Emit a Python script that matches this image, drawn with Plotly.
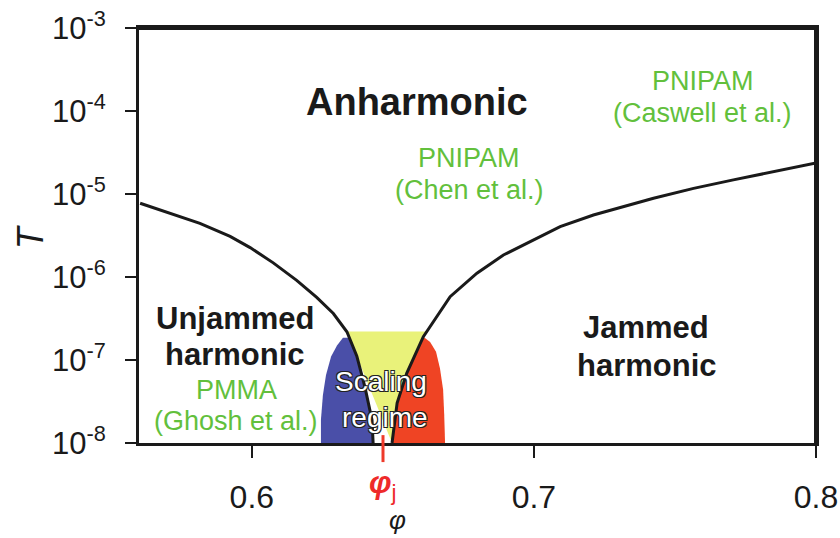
import numpy as np
import plotly.graph_objects as go

# boundary between anharmonic and harmonic regimes (phi, T)
left_phi = [0.5604, 0.5686, 0.5816, 0.5923, 0.5994, 0.6076, 0.6159, 0.6230, 0.6289, 0.6337,
            0.6372, 0.6401, 0.6426, 0.6430]
left_T = [7.73e-6, 6.24e-6, 4.42e-6, 3.09e-6, 2.26e-6, 1.48e-6, 9.1e-7, 5.69e-7, 3.63e-7, 2.19e-7,
          1.12e-7, 4.7e-8, 1.9e-8, 1.0e-8]
right_phi = [0.6497, 0.6515, 0.6549, 0.6608, 0.6703, 0.6798, 0.6892, 0.6998, 0.7093, 0.7211,
             0.7329, 0.7424, 0.7566, 0.7707, 0.8]
right_T = [1.0e-8, 3.03e-8, 6.9e-8, 1.91e-7, 5.8e-7, 1.11e-6, 1.84e-6, 2.79e-6, 4.04e-6, 5.58e-6,
           7.16e-6, 8.87e-6, 1.17e-5, 1.48e-5, 2.36e-5]

# scaling regime patches
yellow_top_T = 2.2e-7
blue_phi = [0.6245, 0.6245, 0.6252, 0.6263, 0.6281, 0.6302, 0.6323]
blue_T = [1.0e-8, 1.9e-8, 3.8e-8, 6.6e-8, 1.1e-7, 1.5e-7, 1.85e-7]
red_phi = [0.6632, 0.6653, 0.6667, 0.6678, 0.6682, 0.6685]
red_T = [1.65e-7, 1.26e-7, 7.9e-8, 4.4e-8, 2.2e-8, 1.0e-8]

phi_j = 0.6465

x_range = [0.56, 0.8]
y_range = [1e-8, 1e-3]
y_tickvals = [1e-8, 1e-7, 1e-6, 1e-5, 1e-4, 1e-3]
y_ticktext = ["10<sup>-8</sup>", "10<sup>-7</sup>", "10<sup>-6</sup>", "10<sup>-5</sup>",
              "10<sup>-4</sup>", "10<sup>-3</sup>"]
x_tickvals = [0.6, 0.7, 0.8]
x_ticktext = ["0.6", "0.7", "0.8"]

# region labels: (phi, log10 T, text, size, bold, colour)
BLACK = "#1a1a1a"
GREEN = "#62c03c"
labels = [
    (0.6586, -3.892, "Anharmonic", 38, True, BLACK),
    (0.6770, -4.566, "PNIPAM", 27, False, GREEN),
    (0.6770, -4.952, "(Chen et al.)", 27, False, GREEN),
    (0.7600, -3.639, "PNIPAM", 27, False, GREEN),
    (0.7596, -4.024, "(Caswell et al.)", 27, False, GREEN),
    (0.5940, -6.494, "Unjammed", 31, True, BLACK),
    (0.5940, -6.928, "harmonic", 31, True, BLACK),
    (0.5944, -7.361, "PMMA", 27, False, GREEN),
    (0.5944, -7.735, "(Ghosh et al.)", 27, False, GREEN),
    (0.7398, -6.614, "Jammed", 31, True, BLACK),
    (0.7401, -7.072, "harmonic", 31, True, BLACK),
]
scaling_labels = [(0.6458, -7.253, "Scaling"), (0.6472, -7.687, "regime")]

FONT = "Liberation Sans, Arial, sans-serif"


def curve_at(phis, Ts, T):
    # phi on a boundary curve where it crosses T (log interpolation)
    lt = np.log10(Ts)
    order = np.argsort(lt)
    return float(np.interp(np.log10(T), lt[order], np.array(phis)[order]))


lx_top = curve_at(left_phi, left_T, yellow_top_T)
rx_top = curve_at(right_phi, right_T, yellow_top_T)

# yellow region between the two curves under the cap
yel_x = [lx_top, rx_top] + [p for p, t in zip(right_phi, right_T) if t <= yellow_top_T][::-1] + \
        [p for p, t in zip(left_phi, left_T) if t <= yellow_top_T]
yel_y = [yellow_top_T, yellow_top_T] + [t for t in right_T if t <= yellow_top_T][::-1] + \
        [t for t in left_T if t <= yellow_top_T]

# blue: dome edge, then back down the left curve
bl_top = blue_T[-1]
bl_x = blue_phi + [curve_at(left_phi, left_T, bl_top)] + \
       [p for p, t in zip(left_phi, left_T) if t < bl_top]
bl_y = blue_T + [bl_top] + [t for t in left_T if t < bl_top]
# red: up the right curve, then dome edge down
rd_top = 1.91e-7
rd_x = [p for p, t in zip(right_phi, right_T) if t <= rd_top] + red_phi
rd_y = [t for t in right_T if t <= rd_top] + red_T

fig = go.Figure()
fig.add_trace(go.Scatter(x=yel_x, y=yel_y, fill="toself", fillcolor="#e9f27a",
                         mode="none", showlegend=False))
fig.add_trace(go.Scatter(x=bl_x, y=bl_y, fill="toself", fillcolor="#4a4fa8",
                         mode="none", showlegend=False))
fig.add_trace(go.Scatter(x=rd_x, y=rd_y, fill="toself", fillcolor="#ef4424",
                         mode="none", showlegend=False))
for xs, ys in [(left_phi, left_T), (right_phi, right_T)]:
    fig.add_trace(go.Scatter(x=xs, y=ys, mode="lines", line=dict(color=BLACK, width=3),
                             showlegend=False))

# top and right edges of the frame, drawn along the axis limits
fig.add_trace(go.Scatter(x=[x_range[0], x_range[1], x_range[1]], y=[y_range[1], y_range[1], y_range[0]],
                         mode="lines", line=dict(color=BLACK, width=4), cliponaxis=False,
                         showlegend=False, hoverinfo="skip"))

# phi_j marker
fig.add_shape(type="line", x0=phi_j, x1=phi_j, xref="x", yref="paper", y0=0.019, y1=-0.046,
              line=dict(color="#ee3a2a", width=3))
fig.add_annotation(x=phi_j, xref="x", y=-0.101, yref="paper", xanchor="center", yanchor="middle",
                   text="<b><i>φ</i></b><sub>j</sub>", showarrow=False,
                   font=dict(family=FONT, size=32, color="#ee2a2a"))

for x, y, txt, size, bold, col in labels:
    fig.add_annotation(x=x, y=y, text=f"<b>{txt}</b>" if bold else txt, showarrow=False,
                       xanchor="center", yanchor="middle",
                       font=dict(family=FONT, size=size, color=col))

for x, y, txt in scaling_labels:
    fig.add_annotation(x=x, y=y, text=txt, showarrow=False, xanchor="center", yanchor="middle",
                       font=dict(family=FONT, size=28, color="white",
                                 shadow="-1px -1px 0 #222, 1px -1px 0 #222, -1px 1px 0 #222, "
                                        "1px 1px 0 #222"))

# axis titles
fig.add_annotation(x=0.6518, xref="x", y=-0.186, yref="paper", text="<i>φ</i>", showarrow=False,
                   xanchor="center", yanchor="middle",
                   font=dict(family=FONT, size=26, color=BLACK))
fig.add_annotation(x=-0.161, xref="paper", y=0.496, yref="paper", text="<i>T</i>", showarrow=False,
                   xanchor="center", yanchor="middle",
                   textangle=-90, font=dict(family=FONT, size=36, color=BLACK))

fig.update_layout(
    width=840, height=538,
    margin=dict(l=139, r=24, t=28, b=95),
    paper_bgcolor="white", plot_bgcolor="white",
    font=dict(family=FONT, color=BLACK),
    showlegend=False,
)
fig.update_xaxes(range=x_range, tickvals=x_tickvals, ticktext=x_ticktext,
                 ticks="outside", ticklen=12, tickwidth=2, tickcolor=BLACK,
                 showline=True, linewidth=3, linecolor=BLACK, mirror=True,
                 showgrid=False, zeroline=False, tickfont=dict(size=32, color=BLACK),
                 ticklabelstandoff=12, automargin=False, ticklabeloverflow="allow")
fig.update_yaxes(type="log", range=[-8, -3], tickvals=y_tickvals, ticktext=y_ticktext,
                 ticks="outside", ticklen=11, tickwidth=2, tickcolor=BLACK,
                 showline=True, linewidth=3, linecolor=BLACK, mirror=True,
                 showgrid=False, zeroline=False, tickfont=dict(size=31, color=BLACK),
                 ticklabelstandoff=13, automargin=False, ticklabeloverflow="allow")

# drop the default page margin so the figure fills the window exactly
fig.write_html("out.html", config={"displayModeBar": False},
               post_script="document.body.style.margin='0';"
                           "document.body.style.overflow='hidden';")
